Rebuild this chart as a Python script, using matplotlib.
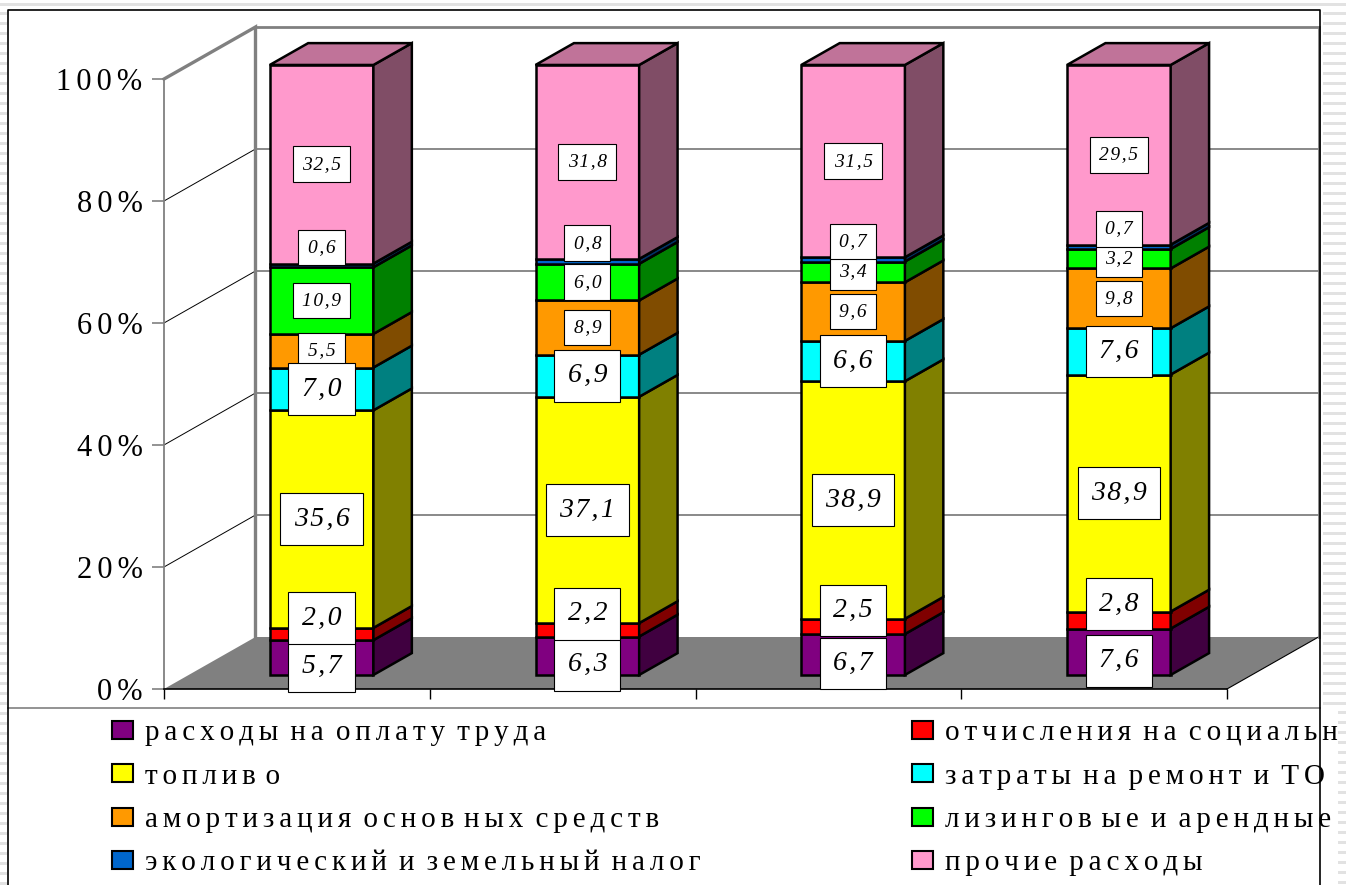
import matplotlib
matplotlib.use('Agg')
import matplotlib.pyplot as plt
from matplotlib.patches import Polygon, Rectangle, Patch
from matplotlib.lines import Line2D
import numpy as np

plt.rcParams['font.family'] = ['Liberation Serif', 'DejaVu Serif']

# --- data (shares, %) ---
periods = ['1', '2', '3', '4']          # category names are not shown on the chart
wages = [5.7, 6.3, 6.7, 7.6]
social = [2.0, 2.2, 2.5, 2.8]
fuel = [35.6, 37.1, 38.9, 38.9]
repair = [7.0, 6.9, 6.6, 7.6]
depreciation = [5.5, 8.9, 9.6, 9.8]
leasing = [10.9, 6.0, 3.4, 3.2]
ecology = [0.6, 0.8, 0.7, 0.7]
other = [32.5, 31.8, 31.5, 29.5]

series_names = ['расходы на оплату труда', 'отчисления на социальные нужды',
                'топливо', 'затраты на ремонт и ТО',
                'амортизация основных средств', 'лизинговые и арендные платежи',
                'экологический и земельный налог', 'прочие расходы']
y_ticks = [0, 20, 40, 60, 80, 100]

series = [wages, social, fuel, repair, depreciation, leasing, ecology, other]
face = ['#800080', '#FF0000', '#FFFF00', '#00FFFF', '#FF9900', '#00FF00', '#0066CC', '#FF99CC']
side = ['#400040', '#800000', '#808000', '#008080', '#804C00', '#008000', '#003366', '#804D66']
top_color = '#C07399'

# --- geometry (pixels of the 1346x885 canvas) ---
W, H = 1346, 885
def fx(px):
    return px / W
def fy(py):
    return 1 - py / H

fig = plt.figure(figsize=(W / 100, H / 100), dpi=100)
fig.patch.set_facecolor('white')

ax = fig.add_axes([fx(164), fy(689), (1227 - 164) / W, (689 - 79) / H])
ax.set_xlim(0, len(periods))
ax.set_ylim(0, 100)
ax.patch.set_visible(False)

n = len(periods)
DX = 91.5 / (1063 / n)    # depth of the floor in category units
DY = 52 / 6.1             # depth of the floor in percent units
F0 = 0.27                 # front of the bars, fraction of depth
D = 0.42                  # bar depth, fraction of depth
BW = 0.39                 # bar width
EDGE = 1.8


def track(s, gap='\u2006', extra_v=True):
    words = []
    for w in s.split(' '):
        out = ''
        for k, ch in enumerate(w):
            out += ch
            if k < len(w) - 1:
                out += gap
                if extra_v and ch == 'в':
                    out += '\u2006'
        words.append(out)
    return (gap + ' ').join(words)


# walls and floor
ax.add_patch(Polygon([(0, 0), (n, 0), (n + DX, DY), (DX, DY)], closed=True,
                     fc='#808080', ec='none', zorder=0.5, clip_on=False))
for t in y_ticks[1:-1]:
    ax.plot([0, DX], [t, t + DY], color='black', lw=0.7, clip_on=False, zorder=1)
    ax.plot([DX, n + DX], [t + DY, t + DY], color='#808080', lw=1.3, clip_on=False, zorder=1)
ax.plot([0, DX, DX], [100, 100 + DY, DY], color='#808080', lw=2.4, clip_on=False,
        zorder=1.2, solid_joinstyle='miter')
ax.plot([DX, n + DX, n + DX], [100 + DY, 100 + DY, DY], color='#808080', lw=2.0,
        clip_on=False, zorder=1.2, solid_joinstyle='miter')
ax.plot([n, n + DX], [0, DY], color='black', lw=0.8, clip_on=False, zorder=1)

# axes
for s in ['top', 'right']:
    ax.spines[s].set_visible(False)
ax.spines['left'].set_color('#808080')
ax.spines['left'].set_linewidth(1.3)
ax.spines['bottom'].set_color('black')
ax.spines['bottom'].set_linewidth(1.2)
ax.set_xticks(range(n + 1))
ax.set_xticklabels([])
ax.tick_params(axis='x', length=7.5, width=1.0, color='black', direction='out')
ax.set_yticks(y_ticks)
ax.set_yticklabels([track(f'{v}%', extra_v=False) for v in y_ticks])
ax.tick_params(axis='y', length=9, width=1.2, color='#808080', pad=6.5, labelsize=22)

# 3D stacked bars
arr = np.array(series, dtype=float)
shares = arr / arr.sum(axis=0) * 100
cum = np.zeros(n)
label_nudge = [-6.5, 11.5, 0, 0, 0, 0, 13, 0]   # points
for j in range(len(series)):
    for i in range(n):
        b = cum[i]
        h = shares[j, i]
        xl = i + 0.5 - BW / 2 + F0 * DX
        xr = xl + BW
        y0 = b + F0 * DY
        y1 = b + h + F0 * DY
        ax.add_patch(Rectangle((xl, y0), BW, h, fc=face[j], ec='black', lw=EDGE,
                               zorder=3, clip_on=False, joinstyle='miter'))
        ax.add_patch(Polygon([(xr, y0), (xr + D * DX, y0 + D * DY),
                              (xr + D * DX, y1 + D * DY), (xr, y1)], closed=True,
                             fc=side[j], ec='black', lw=EDGE, zorder=3,
                             clip_on=False, joinstyle='miter'))
        if j == len(series) - 1:
            ax.add_patch(Polygon([(xl, y1), (xr, y1), (xr + D * DX, y1 + D * DY),
                                  (xl + D * DX, y1 + D * DY)], closed=True,
                                 fc=top_color, ec='black', lw=EDGE, zorder=3,
                                 clip_on=False, joinstyle='miter'))
        big = j < 4
        txt = f'{series[j][i]:.1f}'.replace('.', ',')
        ax.annotate(track(txt, gap='\u200a', extra_v=False),
                    xy=(i + 0.5 + F0 * DX, b + h / 2 + F0 * DY),
                    xytext=(0, label_nudge[j]), textcoords='offset points',
                    ha='center', va='center', style='italic',
                    fontsize=20 if big else 14,
                    bbox=dict(boxstyle='square,pad=0.48', fc='white', ec='black', lw=0.8),
                    zorder=(20 if big else 10) + j, annotation_clip=False)
    cum += shares[j]

# legend in two columns
handles = [Patch(fc=face[j], ec='black', lw=1.5) for j in range(len(series))]
labels = [track(s) for s in series_names]
leg_kw = dict(loc='upper left', fontsize=21, frameon=False, handlelength=0.72,
              handleheight=0.58, handletextpad=0.41, labelspacing=0.6,
              borderpad=0, borderaxespad=0)
fig.legend(handles[0::2], labels[0::2], bbox_to_anchor=(fx(112), fy(720)), **leg_kw)
fig.legend(handles[1::2], labels[1::2], bbox_to_anchor=(fx(912), fy(720)), **leg_kw)

# chart frame and slide background
def fig_line(xs, ys, **kw):
    fig.add_artist(Line2D([fx(x) for x in xs], [fy(y) for y in ys],
                          transform=fig.transFigure, **kw))

def stripes(x0, x1, y0, y1):
    fig.add_artist(Rectangle((fx(x0), fy(y1)), fx(x1) - fx(x0), fy(y0) - fy(y1),
                             transform=fig.transFigure, fc='white', ec='none', zorder=30))
    for y in np.arange(y0 + 3, y1, 10):
        fig.add_artist(Rectangle((fx(x0), fy(min(y + 3, y1))), fx(x1) - fx(x0),
                                 fy(y) - fy(min(y + 3, y1)), transform=fig.transFigure,
                                 fc='#e2e2e2', ec='none', zorder=31))

fig_line([8, 1320], [708, 708], color='#808080', lw=1.2, zorder=32)
fig_line([8, 8, 1320, 1320], [885, 10, 10, 885], color='black', lw=1.2, zorder=32)
stripes(0, W, 0, 9)
stripes(0, 7, 9, H)
stripes(1323, W, 9, 708)
stripes(1338, W, 708, H)

fig.savefig('out.png', dpi=100)
